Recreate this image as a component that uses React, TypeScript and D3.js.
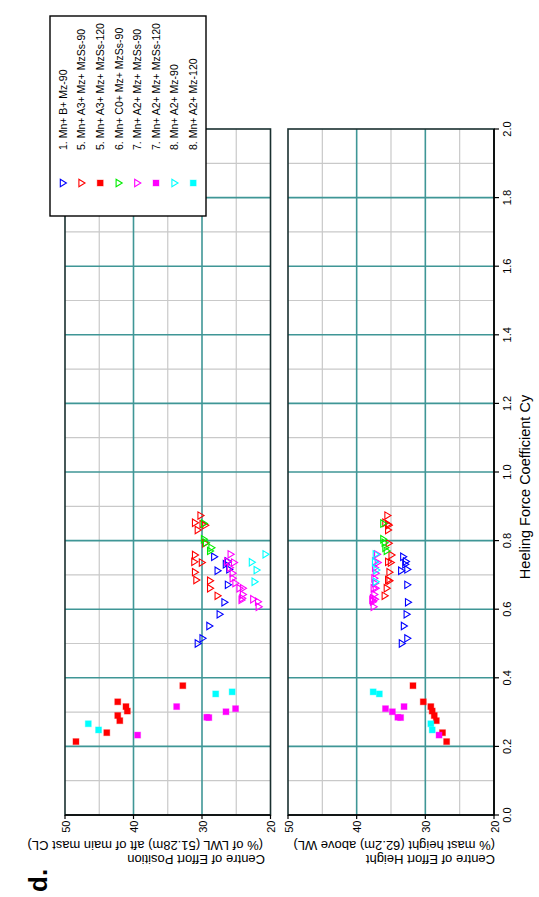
import React from "react";
import * as d3 from "d3";

// Each point: [heeling force coefficient Cy, centre of effort position (% LWL), centre of effort height (% mast height)]
type Pt = [number, number, number];

const mnBMz90: Pt[] = [
  [0.753, 28.2, 33.2], [0.739, 26.2, 32.8], [0.731, 26.5, 32.9], [0.716, 26.0, 32.6],
  [0.712, 27.7, 33.5], [0.671, 26.2, 32.6], [0.620, 26.7, 32.5], [0.585, 27.4, 32.7],
  [0.551, 28.9, 33.1], [0.515, 29.9, 32.6], [0.500, 30.6, 33.4],
];
const mnA3MzSs90: Pt[] = [
  [0.873, 30.2, 35.5], [0.852, 31.0, 35.8], [0.848, 29.9, 35.4], [0.845, 29.5, 35.3],
  [0.831, 30.6, 35.4], [0.792, 29.5, 35.3], [0.758, 31.0, 34.9], [0.738, 31.1, 35.4],
  [0.736, 30.0, 35.0], [0.708, 31.0, 35.2], [0.685, 30.8, 35.4], [0.683, 28.8, 35.2],
  [0.661, 28.8, 35.6], [0.639, 27.7, 35.9],
];
const mnA3MzSs120: Pt[] = [
  [0.214, 48.4, 26.9], [0.240, 43.9, 27.5], [0.275, 42.0, 28.4], [0.290, 42.3, 28.7],
  [0.303, 40.9, 29.0], [0.316, 41.1, 29.2], [0.330, 42.3, 30.3], [0.377, 32.8, 31.8],
];
const mnC0MzSs90: Pt[] = [
  [0.850, 29.7, 36.1], [0.804, 29.7, 36.1], [0.794, 29.4, 35.9], [0.779, 28.6, 35.8],
  [0.770, 28.8, 35.6],
];
const mnA2MzSs90: Pt[] = [
  [0.760, 25.8, 37.0], [0.739, 26.3, 37.3], [0.736, 25.3, 36.9], [0.721, 25.9, 37.3],
  [0.705, 25.5, 37.2], [0.690, 25.5, 37.4], [0.676, 25.1, 37.3], [0.661, 24.5, 37.5],
  [0.661, 24.0, 37.2], [0.643, 24.0, 37.4], [0.632, 24.1, 37.6], [0.627, 24.2, 37.7],
  [0.629, 22.5, 37.3], [0.622, 21.8, 37.6], [0.607, 21.7, 37.5],
];
const mnA2MzSs120: Pt[] = [
  [0.233, 39.4, 28.0], [0.316, 33.7, 33.1], [0.285, 29.3, 34.0], [0.284, 29.0, 33.6],
  [0.301, 26.5, 34.8], [0.310, 25.1, 35.8],
];
const mnA2Mz90: Pt[] = [
  [0.760, 20.7, 37.2], [0.737, 22.7, 37.3], [0.714, 22.0, 37.1], [0.680, 22.3, 37.2],
];
const mnA2Mz120: Pt[] = [
  [0.248, 45.1, 29.0], [0.266, 46.6, 29.2], [0.353, 28.0, 36.7], [0.359, 25.6, 37.6],
];

const seriesNames = [
  "1. Mn+ B+ Mz-90",
  "5. Mn+ A3+ Mz+ MzSs-90",
  "5. Mn+ A3+ Mz+ MzSs-120",
  "6. Mn+ C0+ Mz+ MzSs-90",
  "7. Mn+ A2+ Mz+ MzSs-90",
  "7. Mn+ A2+ Mz+ MzSs-120",
  "8. Mn+ A2+ Mz-90",
  "8. Mn+ A2+ Mz-120",
];
const seriesData = [mnBMz90, mnA3MzSs90, mnA3MzSs120, mnC0MzSs90, mnA2MzSs90, mnA2MzSs120, mnA2Mz90, mnA2Mz120];
const seriesColors = ["#0000ff", "#ff0000", "#ff0000", "#00ee00", "#ff00ff", "#ff00ff", "#00ffff", "#00ffff"];
const seriesShapes = ["tri", "tri", "sq", "tri", "tri", "sq", "tri", "sq"];

const cyTicks = [0, 0.2, 0.4, 0.6, 0.8, 1.0, 1.2, 1.4, 1.6, 1.8, 2.0];
const valueTicks = [20, 30, 40, 50];

const FONT = "'Liberation Sans', Arial, Helvetica, sans-serif";
const TEAL = "#3f9696";
const GRAY = "#c9c9c9";
const FRAME = "#1a3030";

// Layout is built in a landscape frame (897 x 539) and turned a quarter turn on the page.
const FW = 897;
const x = d3.scaleLinear().domain([0, 2]).range([82, 768]);
const yPos = d3.scaleLinear().domain([20, 50]).range([270.5, 65]);
const yHt = d3.scaleLinear().domain([20, 50]).range([494, 288]);

function Marker({ shape, color, cx, cy }: { shape: string; color: string; cx: number; cy: number }) {
  if (shape === "sq") {
    return <rect x={cx - 3} y={cy - 3} width={6} height={6} fill={color} stroke={color} strokeOpacity={0.35} strokeWidth={1} />;
  }
  const p = d3.path();
  p.moveTo(cx - 3.7, cy - 2.7);
  p.lineTo(cx + 3.7, cy - 2.7);
  p.lineTo(cx, cy + 3.4);
  p.closePath();
  return <path d={p.toString()} fill="none" stroke={color} strokeWidth={1.1} />;
}

function Panel({ y, field, showCyAxis }: { y: d3.ScaleLinear<number, number>; field: 1 | 2; showCyAxis: boolean }) {
  const [top, bottom] = [y(50), y(20)];
  const minorCy = d3.range(1, 20).map((i) => i / 10);
  const minorVal = [25, 35, 45];
  const majorVal = [30, 40];
  return (
    <g>
      <rect x={x(0)} y={top} width={x(2) - x(0)} height={bottom - top} fill="#fff" />
      {minorCy.filter((_, i) => i % 2 === 0).map((c) => (
        <line key={`gc${c}`} x1={x(c)} x2={x(c)} y1={top} y2={bottom} stroke={GRAY} strokeWidth={1.2} />
      ))}
      {minorVal.map((v) => (
        <line key={`gv${v}`} x1={x(0)} x2={x(2)} y1={y(v)} y2={y(v)} stroke={GRAY} strokeWidth={1.2} />
      ))}
      {minorCy.filter((_, i) => i % 2 === 1).map((c) => (
        <line key={`tc${c}`} x1={x(c)} x2={x(c)} y1={top} y2={bottom} stroke={TEAL} strokeWidth={1.6} />
      ))}
      {majorVal.map((v) => (
        <line key={`tv${v}`} x1={x(0)} x2={x(2)} y1={y(v)} y2={y(v)} stroke={TEAL} strokeWidth={1.6} />
      ))}
      <rect x={x(0)} y={top} width={x(2) - x(0)} height={bottom - top} fill="none" stroke={FRAME} strokeWidth={1.6} />
      {/* value axis */}
      <line x1={x(0)} x2={x(0)} y1={top} y2={bottom} stroke="#000" strokeWidth={1.6} />
      {valueTicks.map((v) => (
        <g key={`vt${v}`}>
          <line x1={x(0) - 4} x2={x(0)} y1={y(v)} y2={y(v)} stroke="#000" strokeWidth={1.2} />
          <text x={x(0) - 5.5} y={y(v) + 4.5} textAnchor="end" fontSize={11} fontFamily={FONT}>{v}</text>
        </g>
      ))}
      {showCyAxis && (
        <g>
          <line x1={x(0)} x2={x(2)} y1={bottom} y2={bottom} stroke="#000" strokeWidth={1.6} />
          {cyTicks.map((c) => (
            <g key={`ct${c}`}>
              <line x1={x(c)} x2={x(c)} y1={bottom} y2={bottom + 5} stroke="#000" strokeWidth={1.2} />
              <text x={x(c)} y={bottom + 16.5} textAnchor="middle" fontSize={11} fontFamily={FONT}>{c.toFixed(1)}</text>
            </g>
          ))}
        </g>
      )}
      {seriesData.map((pts, si) => (
        <g key={`s${si}`}>
          {pts.map((d, i) => (
            <Marker key={i} shape={seriesShapes[si]} color={seriesColors[si]} cx={x(d[0])} cy={y(d[field])} />
          ))}
        </g>
      ))}
    </g>
  );
}

function Legend() {
  const left = 681, right = 881, top = 50, bottom = 206;
  const rowY = (i: number) => 63 + i * 18.6;
  return (
    <g>
      <rect x={left} y={top} width={right - left} height={bottom - top} fill="#fff" stroke="#000" strokeWidth={1.4} />
      {seriesNames.map((name, i) => (
        <g key={name}>
          <Marker shape={seriesShapes[i]} color={seriesColors[i]} cx={714} cy={rowY(i)} />
          <text x={747} y={rowY(i) + 3.8} fontSize={10.5} fontFamily={FONT}>{name}</text>
        </g>
      ))}
    </g>
  );
}

export default function App() {
  return (
    <svg width={539} height={897} style={{ position: "absolute", left: 0, top: 0, background: "#fff" }}>
      <g transform={`translate(0,${FW}) rotate(-90)`}>
        <Panel y={yPos} field={1} showCyAxis={false} />
        <Panel y={yHt} field={2} showCyAxis={true} />
        <text fontSize={13} fontFamily={FONT} transform={`translate(42,${265}) rotate(-90)`}>Centre of Effort Position</text>
        <text fontSize={13} fontFamily={FONT} transform={`translate(56.5,${263}) rotate(-90)`}>(% of LWL (51.28m) aft of main mast CL)</text>
        <text fontSize={13} fontFamily={FONT} transform={`translate(42,${495}) rotate(-90)`}>Centre of Effort Height</text>
        <text fontSize={13} fontFamily={FONT} transform={`translate(56.5,${495}) rotate(-90)`}>(% mast height (62.2m) above WL)</text>
        <text x={410} y={530} textAnchor="middle" fontSize={14.5} fontFamily={FONT}>Heeling Force Coefficient Cy</text>
        <text x={5} y={47} fontSize={26} fontWeight="bold" fontFamily={FONT}>d.</text>
        <Legend />
      </g>
    </svg>
  );
}
